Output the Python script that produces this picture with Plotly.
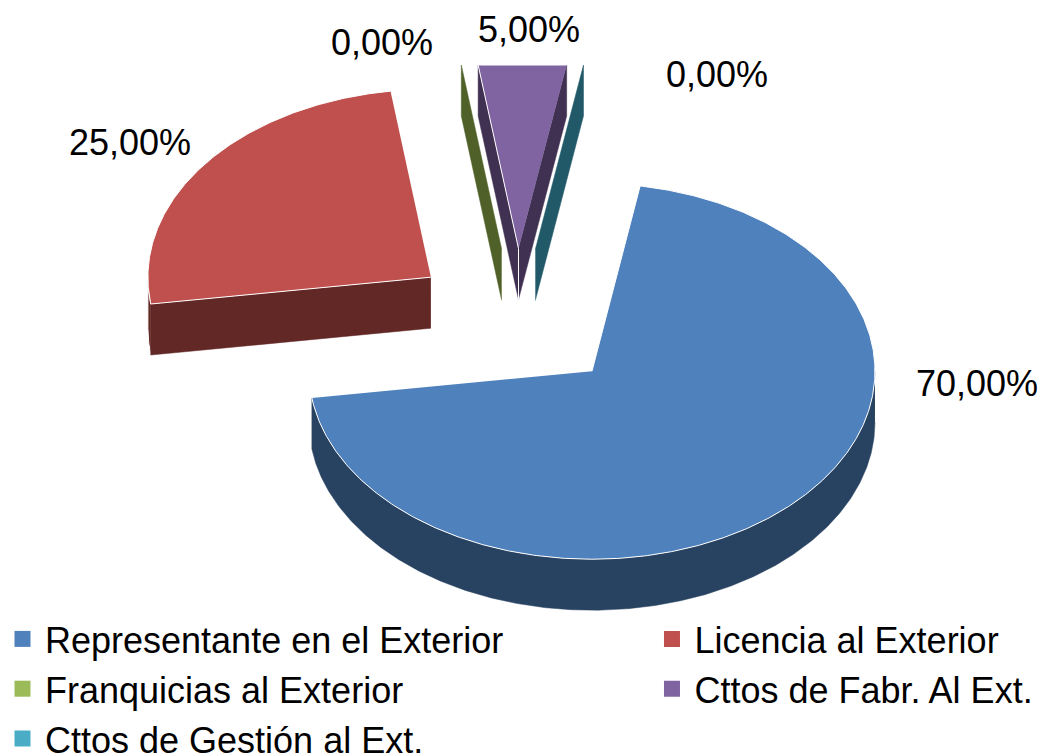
import numpy as np
import plotly.graph_objects as go

categories = ["Representante en el Exterior", "Licencia al Exterior", "Franquicias al Exterior",
              "Cttos de Fabr. Al Ext.", "Cttos de Gestión al Ext."]
values = [70.0, 25.0, 0.0, 5.0, 0.0]
top_colors = ["#4F81BD", "#C0504D", "#9BBB59", "#8064A2", "#4BACC6"]
side_colors = ["#284261", "#622826", "#4F6128", "#403152", "#215968"]
legend_ids = ["legend", "legend2", "legend", "legend2", "legend"]
label_pos = [(977, 383), (130, 142), (382, 42), (529, 29), (717, 74)]

# projection of the exploded pie on the page
CX, CY = 517, 320
RX, RY = 283, 188
DEPTH = 51
EXPLODE = 0.38
FIRST = 9.8
CLIP_TOP = 65
PAGE_W, PAGE_H = 1059, 790


def rim(a, c):
    r = np.radians(a)
    return c[0] + RX * np.sin(r), np.maximum(c[1] - RY * np.cos(r), CLIP_TOP)


def arc(a0, a1, c):
    t = np.linspace(a0, a1, max(2, int(abs(a1 - a0)) * 2))
    return rim(t, c)


def poly(fig, xs, ys, fill, line="white", w=1.0):
    fig.add_trace(go.Scatter(x=list(xs), y=list(ys), mode="lines", fill="toself", fillcolor=fill,
                             line=dict(color=line, width=w), showlegend=False, hoverinfo="skip"))


# slice geometry from the values
slices = []
a = FIRST
for v in values:
    sweep = v / sum(values) * 360
    mid = np.radians(a + sweep / 2)
    c = (CX + EXPLODE * RX * np.sin(mid), CY - EXPLODE * RY * np.cos(mid))
    slices.append((a, a + sweep, c))
    a += sweep

fig = go.Figure()


def radial_wall(i, ang):
    c = slices[i][2]
    x, y = rim(ang, c)
    poly(fig, [c[0], x, x, c[0]], [c[1], y, y + DEPTH, c[1] + DEPTH], side_colors[i], side_colors[i], 0.5)


# zero-width slices show only their wall; the back ones are drawn first
radial_wall(2, slices[2][0])
radial_wall(4, slices[4][0])

# 5 % slice
a0, a1, c = slices[3]
radial_wall(3, a0)
radial_wall(3, a1)
fig.add_trace(go.Scatter(x=[c[0], c[0]], y=[c[1], c[1] + DEPTH], mode="lines",
                         line=dict(color="white", width=1), showlegend=False, hoverinfo="skip"))
xa, ya = arc(a0, a1, c)
poly(fig, [c[0], *xa], [c[1], *ya], top_colors[3])

# 25 % slice
a0, a1, c = slices[1]
xa, ya = arc(a0, 270, c)
poly(fig, [*xa, *xa[::-1]], [*ya, *(ya[::-1] + DEPTH)], side_colors[1], "white", 1)
radial_wall(1, a0)
xa, ya = arc(a0, a1, c)
poly(fig, [c[0], *xa], [c[1], *ya], top_colors[1])

# 70 % slice
a0, a1, c = slices[0]
xa, ya = arc(90, a1, c)
poly(fig, [*xa, *xa[::-1]], [*ya, *(ya[::-1] + DEPTH)], side_colors[0], side_colors[0], 0.5)
xa, ya = arc(a0, a1, c)
poly(fig, [c[0], *xa], [c[1], *ya], top_colors[0])

# legend entries
for name, col, lid in zip(categories, top_colors, legend_ids):
    fig.add_trace(go.Scatter(x=[None], y=[None], mode="markers", name=name, legend=lid,
                             marker=dict(symbol="square", size=16, color=col)))

for v, (lx, ly) in zip(values, label_pos):
    fig.add_annotation(x=lx, y=ly, text=f"{v:.2f}%".replace(".", ","), showarrow=False,
                       font=dict(size=36, color="black", family="Liberation Sans"))

legend_font = dict(size=36, color="black", family="Liberation Sans")
LEGEND_TOP = 1 - 609 / PAGE_H
fig.update_layout(
    width=PAGE_W, height=PAGE_H, margin=dict(l=0, r=0, t=0, b=0),
    paper_bgcolor="white", plot_bgcolor="white",
    xaxis=dict(range=[0, PAGE_W], visible=False, fixedrange=True),
    yaxis=dict(range=[PAGE_H, 0], visible=False, fixedrange=True),
    legend=dict(x=0, y=LEGEND_TOP, xanchor="left", yanchor="top", itemwidth=35,
                bgcolor="rgba(0,0,0,0)", font=legend_font),
    legend2=dict(x=0.6133, y=LEGEND_TOP, xanchor="left", yanchor="top", itemwidth=35,
                 bgcolor="rgba(0,0,0,0)", font=legend_font),
)
fig.write_html("out.html", config=dict(displayModeBar=False),
               post_script="document.body.style.margin='0';document.body.style.overflow='hidden';")
